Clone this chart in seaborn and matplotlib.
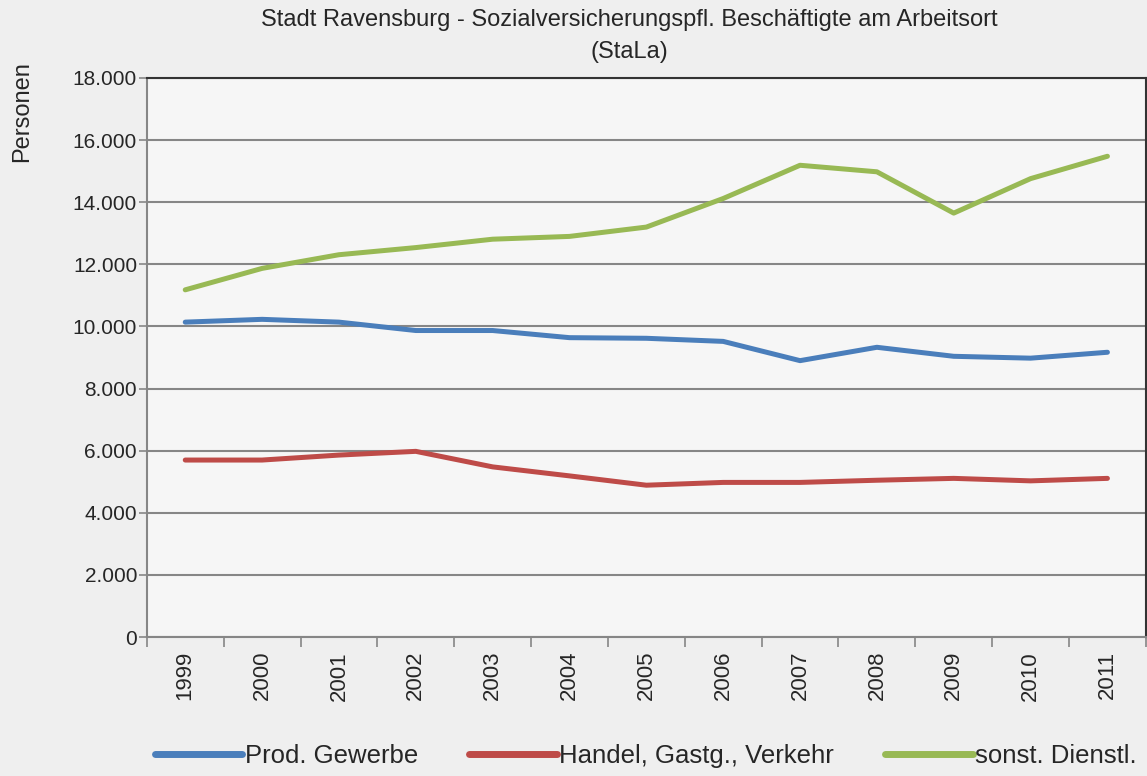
import numpy as np
import pandas as pd
import matplotlib.pyplot as plt
import matplotlib.ticker as mticker
import seaborn as sns

jahre = list(range(1999, 2012))
prod_gewerbe = [10140, 10230, 10140, 9870, 9870, 9640, 9620, 9520, 8900, 9330, 9040, 8980, 9170]
handel = [5700, 5700, 5860, 5980, 5480, 5190, 4890, 4980, 4980, 5050, 5110, 5030, 5110]
dienstl = [11180, 11870, 12310, 12540, 12810, 12900, 13200, 14120, 15190, 14980, 13650, 14760, 15480]
reihen = ['Prod. Gewerbe', 'Handel, Gastg., Verkehr', 'sonst. Dienstl.']
farben = ['#4a7ebb', '#be4b48', '#98b954']

df = pd.DataFrame({
    'Jahr': jahre * 3,
    'Personen': prod_gewerbe + handel + dienstl,
    'Bereich': [reihen[0]] * 13 + [reihen[1]] * 13 + [reihen[2]] * 13,
})

sns.set_style('white')
plt.rcParams['font.family'] = ['Liberation Sans', 'DejaVu Sans']

fig = plt.figure(figsize=(11.47, 7.76), dpi=100, facecolor='#efefef')
ax = fig.add_axes([0.128, 0.179, 0.871, 0.7205])
ax.set_facecolor('#f6f6f6')

sns.lineplot(data=df, x='Jahr', y='Personen', hue='Bereich', palette=farben,
             linewidth=3.6, ax=ax, legend=False, solid_capstyle='round')

ax.set_xlim(1998.5, 2011.5)
ax.set_ylim(0, 18000)
ax.set_yticks(np.arange(0, 18001, 2000))
ax.yaxis.set_major_formatter(mticker.FuncFormatter(lambda v, p: f'{int(v):,}'.replace(',', '.')))
ax.set_xticks(jahre)
ax.set_xticklabels([str(j) for j in jahre], rotation=90)
ax.set_xticks(np.arange(1998.5, 2012, 1), minor=True)
ax.tick_params(axis='x', which='major', length=0, labelsize=16, pad=10)
ax.tick_params(axis='x', which='minor', length=7, width=1.2, color='#868686', bottom=True)
ax.tick_params(axis='y', length=6, width=1.2, color='#868686', labelsize=15, left=True, pad=1)
ax.grid(axis='y', color='#868686', linewidth=1.5)
ax.set_axisbelow(True)
for s in ['left', 'bottom']:
    ax.spines[s].set_color('#868686')
    ax.spines[s].set_linewidth(1.5)
for s in ['top', 'right']:
    ax.spines[s].set_color('#333333')
    ax.spines[s].set_linewidth(1.5)
ax.set_xlabel('')
ax.set_ylabel('')

fig.text(0.549, 0.988, 'Stadt Ravensburg - Sozialversicherungspfl. Beschäftigte am Arbeitsort\n(StaLa)',
         ha='center', va='top', fontsize=17, linespacing=1.55)
fig.text(0.019, 0.856, 'Personen', rotation=90, ha='center', va='center', fontsize=17)

handles = [plt.Line2D([0], [0], color=c, linewidth=5) for c in farben]
fig.legend(handles, reihen, loc='lower center', bbox_to_anchor=(0.563, -0.02), ncol=3,
           frameon=False, fontsize=18.5, handlelength=3.4, handletextpad=0.1, columnspacing=2.0)

fig.savefig('out.png', dpi=100, facecolor=fig.get_facecolor())
